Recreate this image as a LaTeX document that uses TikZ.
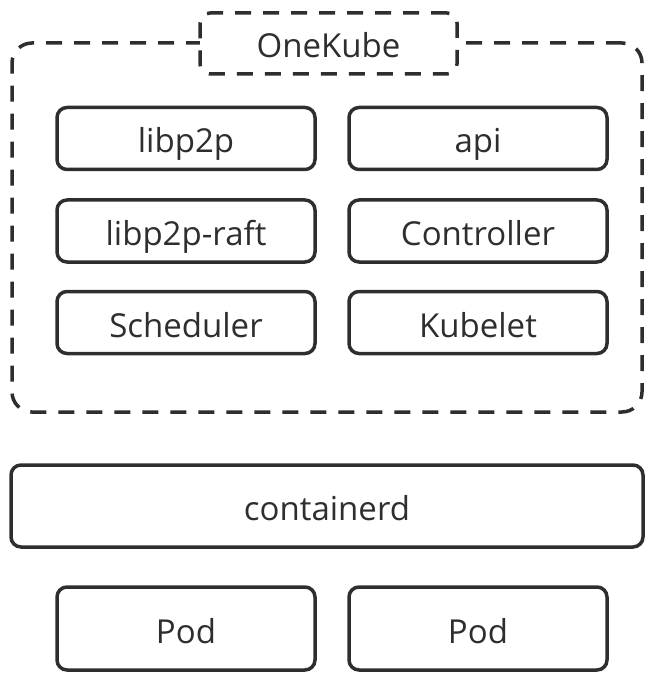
\documentclass[tikz,border=0pt]{standalone}
\usepackage{fontspec}
\setmainfont{Open Sans}
\definecolor{ink}{HTML}{2E2E2E}

\tikzset{
  box/.style={draw=ink, line width=3.5pt, rounded corners=10pt, text=ink,
    minimum width=258pt, minimum height=62pt, inner sep=0pt,
    text height=30pt, text depth=1pt,
    font=\fontsize{33}{40}\selectfont},
  dashbox/.style={box, dash pattern=on 16pt off 12pt},
}

\begin{document}
\begin{tikzpicture}[x=1pt,y=-1pt]
\useasboundingbox (0,0) rectangle (658,684);
% OneKube frame
\node[dashbox, rounded corners=20pt, minimum width=630pt, minimum height=369pt] (onekube) at (327,227.5) {};
\node[dashbox, fill=white, minimum width=257pt, minimum height=61pt] (title) at (328.5,43.5) {OneKube};
% components
\node[box] (libp2p) at (186,138.5) {libp2p};
\node[box] (api) at (478,138.5) {api};
\node[box] (raft) at (186,231) {libp2p-raft};
\node[box] (controller) at (478,231) {Controller};
\node[box] (scheduler) at (186,322.5) {Scheduler};
\node[box] (kubelet) at (478,322.5) {Kubelet};
% runtime
\node[box, minimum width=632pt, minimum height=82pt] (containerd) at (327,506) {containerd};
\node[box, minimum height=83pt] (poda) at (186,628.5) {Pod};
\node[box, minimum height=83pt] (podb) at (478,628.5) {Pod};
\end{tikzpicture}
\end{document}
